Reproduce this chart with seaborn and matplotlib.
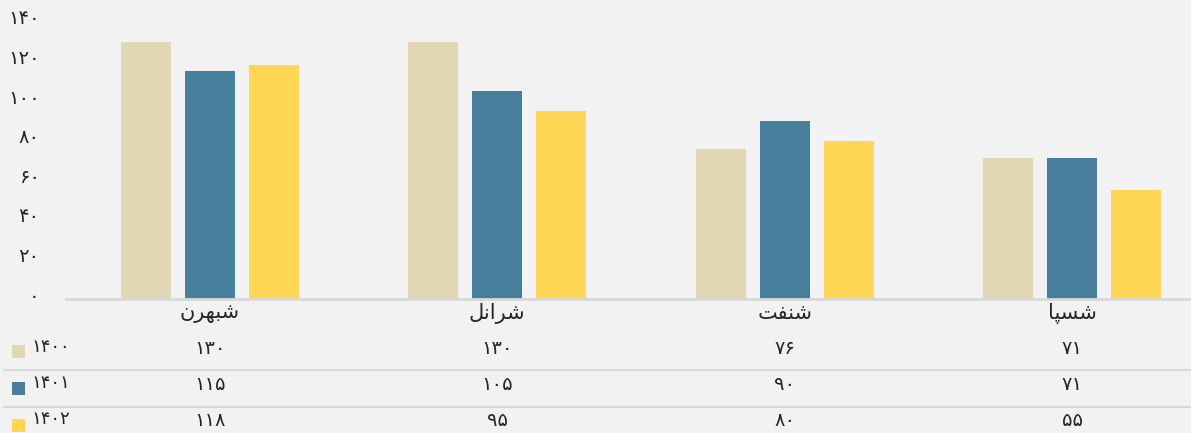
import matplotlib
matplotlib.use('Agg')
import matplotlib.pyplot as plt
import matplotlib.transforms as mtransforms
from matplotlib.patches import Rectangle
from matplotlib.lines import Line2D
import pandas as pd
import seaborn as sns

## data ##
categories = ['شبهرن', 'شرانل', 'شنفت', 'شسپا']
years = ['1400', '1401', '1402']
values_1400 = [130, 130, 76, 71]
values_1401 = [115, 105, 90, 71]
values_1402 = [118, 95, 80, 55]
y_ticks = [0, 20, 40, 60, 80, 100, 120, 140]
colors = ['#e1d7b4', '#477e9c', '#ffd654']

## Persian helpers (matplotlib does not shape Arabic script) ##
FA_DIGITS = str.maketrans('0123456789', '۰۱۲۳۴۵۶۷۸۹')
FORMS = {   # isolated, final, initial, medial
    'ش': ('\uFEB5', '\uFEB6', '\uFEB7', '\uFEB8'),
    'ب': ('\uFE8F', '\uFE90', '\uFE91', '\uFE92'),
    'ه': ('\uFEE9', '\uFEEA', '\uFEEB', '\uFEEC'),
    'ر': ('\uFEAD', '\uFEAE', None, None),
    'ن': ('\uFEE5', '\uFEE6', '\uFEE7', '\uFEE8'),
    'ا': ('\uFE8D', '\uFE8E', None, None),
    'ل': ('\uFEDD', '\uFEDE', '\uFEDF', '\uFEE0'),
    'ف': ('\uFED1', '\uFED2', '\uFED3', '\uFED4'),
    'ت': ('\uFE95', '\uFE96', '\uFE97', '\uFE98'),
    'س': ('\uFEB1', '\uFEB2', '\uFEB3', '\uFEB4'),
    'پ': ('\uFB56', '\uFB57', '\uFB58', '\uFB59'),
}


def dual(c):
    return c in FORMS and FORMS[c][2] is not None


def shape(word):
    out = []
    for i, c in enumerate(word):
        prev_join = i > 0 and dual(word[i - 1])
        next_join = i < len(word) - 1 and dual(c) and word[i + 1] in FORMS
        if prev_join and next_join:
            out.append(FORMS[c][3])
        elif prev_join:
            out.append(FORMS[c][1])
        elif next_join:
            out.append(FORMS[c][2])
        else:
            out.append(FORMS[c][0])
    return ''.join(reversed(out))


def fa(n):
    return str(n).translate(FA_DIGITS)


df = pd.DataFrame({
    'category': categories * 3,
    'year': [years[0]] * 4 + [years[1]] * 4 + [years[2]] * 4,
    'value': values_1400 + values_1401 + values_1402,
})

## plot ##
sns.set_style('white')
plt.rcParams['font.family'] = ['DejaVu Sans']
bg = '#f2f2f2'
W, H = 1191, 433

fig = plt.figure(figsize=(W / 100, H / 100), dpi=100, facecolor=bg)
ax = fig.add_axes([66 / W, 134 / H, 1150 / W, 297 / H], facecolor=bg)

sns.barplot(data=df, x='category', y='value', hue='year', order=categories,
            hue_order=years, palette=colors, saturation=1, width=0.668, gap=0.22,
            linewidth=0, legend=False, ax=ax)

ax.set_xlim(-0.5, 3.5)
ax.set_ylim(0, 150)
for s in ax.spines.values():
    s.set_visible(False)
ax.axhline(0, color='#d9d9d9', lw=2, clip_on=False)
ax.set_xlabel('')
ax.set_ylabel('')
ax.tick_params(length=0)
ax.set_yticks(y_ticks)
ax.set_yticklabels([fa(v) for v in y_ticks], fontsize=14)
ax.tick_params(axis='y', pad=19)
shift = mtransforms.ScaledTranslation(0, 5 / 100, fig.dpi_scale_trans)
for lab in ax.get_yticklabels():
    lab.set_transform(lab.get_transform() + shift)
ax.set_xticks(range(len(categories)))
ax.set_xticklabels([shape(c) for c in categories], fontsize=15)
ax.tick_params(axis='x', pad=3)

# data table below the chart
trans = mtransforms.blended_transform_factory(ax.transData, fig.transFigure)
row_y = [349, 385, 421]
box_y = [351, 388, 425]
series = [values_1400, values_1401, values_1402]
for r, (yr, vals) in enumerate(zip(years, series)):
    for i, v in enumerate(vals):
        ax.text(i, 1 - row_y[r] / H, fa(v), transform=trans, ha='center',
                va='center', fontsize=14, clip_on=False)
    fig.add_artist(Rectangle((12 / W, 1 - (box_y[r] + 6.5) / H), 13 / W, 13 / H,
                             transform=fig.transFigure, color=colors[r], lw=0))
    fig.text(31 / W, 1 - (row_y[r] - 2) / H, fa(yr), ha='left', va='center',
             fontsize=13)

for ly in [370, 407]:
    fig.add_artist(Line2D([4 / W, 1], [1 - ly / H] * 2, transform=fig.transFigure,
                          color='#d9d9d9', lw=1.5))

plt.savefig('out.png', dpi=100, facecolor=bg)
plt.close()
